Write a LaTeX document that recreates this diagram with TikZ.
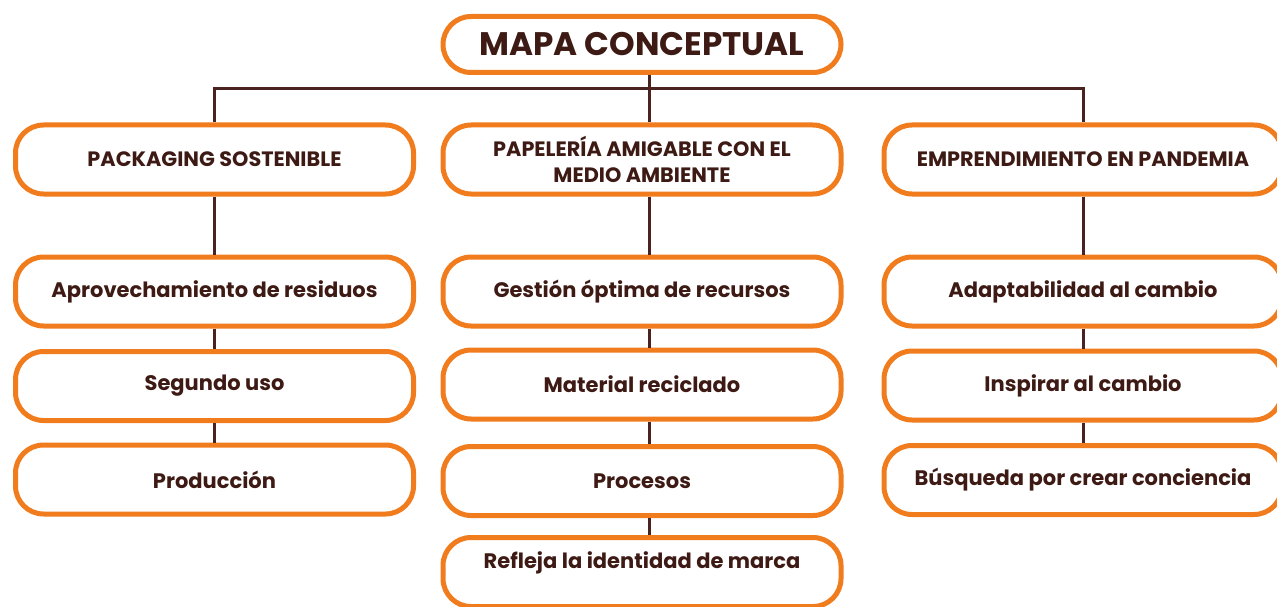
\documentclass[tikz,border=0pt]{standalone}
\usepackage{fontspec}
\setmainfont{Poppins}
\definecolor{orng}{HTML}{F07C1E}
\definecolor{brwn}{HTML}{3E1A14}
\definecolor{lnc}{HTML}{4A2320}
\tikzset{
  box/.style={draw=orng, line width=5pt, fill=white, rounded corners=28pt,
    minimum width=398pt, minimum height=69pt, inner sep=0pt, align=center,
    text=brwn, font=\bfseries\fontsize{20.8}{26}\selectfont},
  lbox/.style={box, font=\bfseries\fontsize{21}{26}\selectfont},
  conn/.style={draw=lnc, line width=3pt},
}
\begin{document}
\begin{tikzpicture}[x=1pt,y=-1pt]
\useasboundingbox (0,0) rectangle (1277,607);
\clip (0,0) rectangle (1277,607);
\coordinate (hb) at (649,89);
\node[box, minimum height=56pt, rounded corners=28pt, font=\bfseries\fontsize{32.6}{38}\selectfont] (t) at (642,44.5) {MAPA CONCEPTUAL};
\node[box] (l1) at (214.5,159.5) {PACKAGING SOSTENIBLE};
\node[box] (m1) at (642,159.5) {PAPELERÍA AMIGABLE CON EL\\MEDIO AMBIENTE};
\node[box] (r1) at (1083,159.5) {EMPRENDIMIENTO EN PANDEMIA};
\node[lbox] (l2) at (214.5,291.5) {Aprovechamiento de residuos};
\node[lbox] (l3) at (214.5,386) {Segundo uso};
\node[lbox] (l4) at (214.5,479.5) {Producción};
\node[lbox] (m2) at (642,291.5) {Gestión óptima de recursos};
\node[lbox] (m3) at (642,384.5) {Material reciclado};
\node[lbox] (m4) at (642,481) {Procesos};
\node[lbox, text height=15pt, text depth=23pt] (m5) at (642,572) {Refleja la identidad de marca};
\node[lbox] (r2) at (1083,291.5) {Adaptabilidad al cambio};
\node[lbox] (r3) at (1083,385.5) {Inspirar al cambio};
\node[lbox] (r4) at (1083,480) {Búsqueda por crear conciencia};
\draw[conn] (l1.north) |- (hb) -| (r1.north);
\draw[conn] ([xshift=7pt]t.south) -- ([xshift=7pt]m1.north);
\draw[conn] (l1) -- (l2);
\draw[conn] (l2) -- (l3);
\draw[conn] (l3) -- (l4);
\draw[conn] (r1) -- (r2);
\draw[conn] (r2) -- (r3);
\draw[conn] (r3) -- (r4);
\draw[conn] ([xshift=7pt]m1.south) -- ([xshift=7pt]m2.north);
\draw[conn] ([xshift=7pt]m2.south) -- ([xshift=7pt]m3.north);
\draw[conn] ([xshift=7pt]m3.south) -- ([xshift=7pt]m4.north);
\draw[conn] ([xshift=7pt]m4.south) -- ([xshift=7pt]m5.north);
\end{tikzpicture}
\end{document}
